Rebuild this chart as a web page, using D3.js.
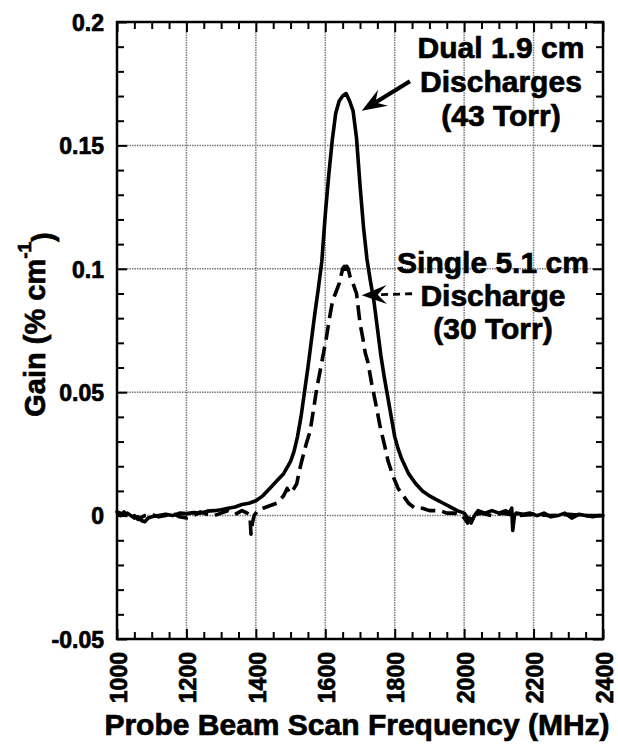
<!DOCTYPE html>
<html><head><meta charset="utf-8">
<script src="https://cdn.jsdelivr.net/npm/d3@7"></script>
<style>body{margin:0;background:#fff}svg{display:block}</style>
</head><body>
<svg id="c" width="618" height="744"></svg>
<script>
// ---- data ----
const xTicks = [1000,1200,1400,1600,1800,2000,2200,2400];
const yTicks = [-0.05,0,0.05,0.1,0.15,0.2];
const yTickLabels = ["-0.05","0","0.05","0.1","0.15","0.2"];

const dualFreq = [1000,1010,1020,1030,1040,1050,1060,1070,1080,1090,1100,1120,1140,1160,1180,1200,1220,1240,1260,1280,1300,1320,1340,1360,1380,1400,1420,1440,1460,1480,1500,1510,1520,1530,1540,1550,1560,1570,1580,1590,1600,1610,1620,1630,1640,1650,1660,1670,1680,1690,1700,1710,1720,1730,1740,1750,1760,1770,1780,1790,1800,1810,1820,1840,1860,1880,1900,1920,1940,1960,1980,2000,2010,2020,2030,2040,2060,2080,2100,2120,2130,2137,2140,2145,2150,2170,2190,2210,2230,2250,2270,2290,2310,2330,2350,2370,2390,2400];
const dualGain = [0.0015,0.001,0.0005,0.001,0.0,-0.001,-0.0005,-0.002,-0.0025,-0.001,-0.0005,0.0,0.0005,0.0,0.001,0.0008,0.0012,0.001,0.0018,0.002,0.0024,0.003,0.0035,0.0045,0.005,0.006,0.008,0.011,0.014,0.017,0.022,0.026,0.032,0.04,0.05,0.06,0.071,0.082,0.092,0.103,0.122,0.138,0.152,0.163,0.168,0.170,0.171,0.168,0.164,0.153,0.134,0.117,0.104,0.095,0.087,0.076,0.065,0.056,0.048,0.04,0.032,0.027,0.023,0.017,0.013,0.010,0.008,0.0065,0.005,0.0035,0.002,0.001,-0.001,-0.003,0.0,0.002,0.001,0.002,0.001,0.002,0.001,0.003,-0.006,0.0,0.001,0.0005,0.001,0.0,0.001,-0.0005,0.0,0.001,-0.001,0.0005,0.0,-0.0005,0.0,0.0];

const singleFreq = [1000,1010,1020,1030,1040,1050,1060,1080,1100,1120,1140,1160,1180,1200,1220,1240,1260,1280,1300,1320,1340,1360,1375,1383,1386,1390,1395,1405,1421,1440,1460,1480,1490,1498,1510,1518,1525,1532,1545,1556,1565,1576,1587,1595,1602,1612,1621,1632,1640,1645,1650,1655,1658,1662,1666,1671,1680,1690,1700,1708,1715,1723,1733,1743,1750,1758,1770,1781,1795,1810,1825,1840,1858,1880,1900,1931,1950,1970,1990,2000,2010,2020,2050,2080,2110,2150,2200,2250,2300,2350,2400];
const singleGain = [0.001,0.0,0.0015,0.0,-0.001,0.0,-0.0015,0.0,0.0005,-0.0005,0.0,0.001,-0.0005,-0.001,0.0,0.0015,0.0005,0.0,0.001,0.002,0.0005,0.002,0.001,0.0,-0.0075,-0.003,0.0,0.002,0.003,0.004,0.005,0.008,0.011,0.009,0.011,0.013,0.018,0.022,0.029,0.034,0.042,0.052,0.060,0.066,0.071,0.080,0.087,0.091,0.094,0.097,0.100,0.101,0.098,0.101,0.100,0.097,0.094,0.090,0.078,0.072,0.066,0.062,0.054,0.047,0.042,0.036,0.029,0.022,0.016,0.011,0.008,0.005,0.003,0.003,0.002,0.002,0.001,0.001,0.0005,-0.001,-0.003,0.0,0.001,0.0,0.001,0.0,0.0005,0.0,0.0005,0.0,0.0];

const dualLabel = ["Dual 1.9 cm","Discharges","(43 Torr)"];
const singleLabel = ["Single 5.1 cm","Discharge","(30 Torr)"];

// ---- layout ----
const svg = d3.select("#c");
const L=117, R=603, T=22, B=639;
const x = d3.scaleLinear().domain([1000,2400]).range([L,R]);
const y = d3.scaleLinear().domain([-0.05,0.2]).range([B,T]);
const FONT = "'Liberation Sans', Arial, Helvetica, sans-serif";
const heavy = s => s.style("font-family",FONT).style("font-weight","bold")
  .attr("fill","#000").attr("stroke","#000").attr("stroke-width",0.7);

// grid
const g = svg.append("g");
g.selectAll("line.gx").data(xTicks.slice(1,-1)).join("line")
  .attr("x1",d=>x(d)).attr("x2",d=>x(d)).attr("y1",T).attr("y2",B)
  .attr("stroke","#7a7a7a").attr("stroke-width",1.5).attr("stroke-dasharray","1.5,1");
g.selectAll("line.gy").data(yTicks.slice(1,-1)).join("line")
  .attr("y1",d=>y(d)).attr("y2",d=>y(d)).attr("x1",L).attr("x2",R)
  .attr("stroke","#7a7a7a").attr("stroke-width",1.5).attr("stroke-dasharray","1.5,1");

// minor tick values
const xMinor = d3.range(1000,2400.1,50).filter(v=>v%200!==0);
const yMinor = d3.range(-50,201,10).map(v=>v/1000).filter(v=>Math.round(v*1000)%50!==0);

function styleAxis(sel){
  sel.select(".domain").remove();
  sel.selectAll(".tick line").attr("stroke","#000").attr("stroke-width",2);
}
// bottom
const axB = svg.append("g").attr("transform",`translate(0,${B})`)
  .call(d3.axisBottom(x).tickValues(xTicks).tickSize(-10).tickSizeOuter(0).tickPadding(0).tickFormat(d3.format("d")));
styleAxis(axB);
axB.selectAll(".tick text")
  .attr("x",0).attr("y",0).attr("dy","0.4em")
  .attr("transform","translate(0,13) rotate(-90)")
  .style("text-anchor","end").style("font-size","23px").call(heavy);
svg.append("g").attr("transform",`translate(0,${B})`)
  .call(d3.axisBottom(x).tickValues(xMinor).tickSize(-7).tickSizeOuter(0).tickFormat(""))
  .call(styleAxis);
// top
svg.append("g").attr("transform",`translate(0,${T})`)
  .call(d3.axisTop(x).tickValues(xTicks).tickSize(-10).tickSizeOuter(0).tickFormat(""))
  .call(styleAxis);
svg.append("g").attr("transform",`translate(0,${T})`)
  .call(d3.axisTop(x).tickValues(xMinor).tickSize(-7).tickSizeOuter(0).tickFormat(""))
  .call(styleAxis);
// left
const axL = svg.append("g").attr("transform",`translate(${L},0)`)
  .call(d3.axisLeft(y).tickValues(yTicks).tickSize(-10).tickSizeOuter(0).tickPadding(13)
    .tickFormat((d,i)=>yTickLabels[i]));
styleAxis(axL);
axL.selectAll(".tick text").style("font-size","23px").attr("dy","0.36em").call(heavy);
svg.append("g").attr("transform",`translate(${L},0)`)
  .call(d3.axisLeft(y).tickValues(yMinor).tickSize(-7).tickSizeOuter(0).tickFormat(""))
  .call(styleAxis);
// right
svg.append("g").attr("transform",`translate(${R},0)`)
  .call(d3.axisRight(y).tickValues(yTicks).tickSize(-10).tickSizeOuter(0).tickFormat(""))
  .call(styleAxis);
svg.append("g").attr("transform",`translate(${R},0)`)
  .call(d3.axisRight(y).tickValues(yMinor).tickSize(-7).tickSizeOuter(0).tickFormat(""))
  .call(styleAxis);

// frame
svg.append("rect").attr("x",L).attr("y",T).attr("width",R-L).attr("height",B-T)
  .attr("fill","none").attr("stroke","#000").attr("stroke-width",2.5);

// curves
const line = d3.line().x(d=>x(d[0])).y(d=>y(d[1]));
svg.append("path").datum(singleFreq.map((f,i)=>[f,singleGain[i]]))
  .attr("d",line).attr("fill","none").attr("stroke","#000").attr("stroke-width",3.6)
  .attr("stroke-dasharray","15,7").attr("stroke-linejoin","round");
svg.append("path").datum(dualFreq.map((f,i)=>[f,dualGain[i]]))
  .attr("d",line).attr("fill","none").attr("stroke","#000").attr("stroke-width",3.6)
  .attr("stroke-linejoin","round").attr("stroke-linecap","round");

// arrows
function arrow(x1,y1,x2,y2,dashed){
  const ang = Math.atan2(y2-y1,x2-x1);
  const len = 25, hw = 9.5, notch = 16;
  const c=Math.cos(ang), s=Math.sin(ang);
  const P=(a,b)=>[x2 - a*c - b*s, y2 - a*s + b*c];
  const sx = x2 - notch*c, sy = y2 - notch*s;
  svg.append("line").attr("x1",x1).attr("y1",y1).attr("x2",sx).attr("y2",sy)
    .attr("stroke","#000").attr("stroke-width",dashed?2.8:4.2)
    .attr("stroke-dasharray",dashed?"7,5":null);
  const pts=[[x2,y2],P(len,hw),P(notch,0),P(len,-hw)];
  svg.append("path").attr("d","M"+pts.map(p=>p.join(",")).join("L")+"Z").attr("fill","#000");
}
arrow(x(1844),y(0.176),x(1705),y(0.164),false);
arrow(x(1850),y(0.0899),x(1705),y(0.0893),true);

// annotation texts
function label(lines,fx,gy,dyPx){
  const t = svg.append("text").attr("text-anchor","middle").style("font-size","30px").call(heavy);
  lines.forEach((s,i)=>t.append("tspan").attr("x",x(fx)).attr("y",y(gy)+i*dyPx).text(s));
}
label(dualLabel,2106,0.1855,34.2);
label(singleLabel,2083,0.0985,33);

// axis titles
svg.append("text").attr("x",(L+R)/2-3).attr("y",735).attr("text-anchor","middle")
  .style("font-size","30px").call(heavy)
  .text("Probe Beam Scan Frequency (MHz)");
const yt = svg.append("text").attr("transform",`translate(45,${(T+B)/2-6}) rotate(-90)`)
  .attr("text-anchor","middle").style("font-size","29px").call(heavy);
yt.append("tspan").text("Gain (% cm");
yt.append("tspan").attr("dy","-0.75em").style("font-size","19px").text("-1");
yt.append("tspan").attr("dy","0.75em").text(")");
</script>
</body></html>
